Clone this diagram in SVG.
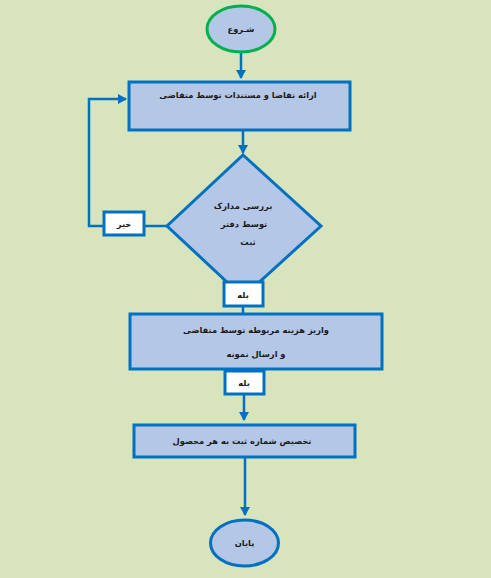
<svg xmlns="http://www.w3.org/2000/svg" width="491" height="578" viewBox="0 0 491 578">
<style>
.bg{fill:#d8e4bc}
.proc{fill:#b4c7e7;stroke:#0070c0;stroke-width:3}
.lbl{fill:#ffffff;stroke:#0070c0;stroke-width:3}
.con{fill:none;stroke:#0070c0;stroke-width:2.5}
text{font-family:"DejaVu Sans","Noto Sans",sans-serif;font-size:8.3px;font-weight:bold;fill:#1a1a1a;text-anchor:middle;direction:rtl}
</style>
<defs>
<marker id="ah" markerWidth="10" markerHeight="10" refX="8" refY="5" orient="auto" markerUnits="userSpaceOnUse">
<path d="M0,0 L9,5 L0,10 Z" fill="#0070c0"/>
</marker>
</defs>
<rect class="bg" x="0" y="0" width="491" height="578"/>
<g id="connectors">
<line class="con" x1="241" y1="53" x2="241" y2="78" marker-end="url(#ah)"/>
<line class="con" x1="243" y1="130" x2="243" y2="153" marker-end="url(#ah)"/>
<polyline class="con" points="167,226 145,226"/>
<polyline class="con" points="103,226 89,226 89,99 126,99" marker-end="url(#ah)"/>
<line class="con" x1="243" y1="307" x2="243" y2="313"/>
<line class="con" x1="244" y1="394" x2="244" y2="420" marker-end="url(#ah)"/>
<line class="con" x1="245" y1="457" x2="245" y2="515" marker-end="url(#ah)"/>
</g>
<g id="start">
<ellipse cx="241" cy="29" rx="34" ry="23" fill="#b4c7e7" stroke="#00b050" stroke-width="3"/>
<text x="241" y="32">شـروع</text>
</g>
<g id="submit">
<rect class="proc" x="129" y="82" width="221" height="48"/>
<text x="238" y="98">ارائه تقاضا و مستندات توسط متقاضی</text>
</g>
<g id="review">
<polygon class="proc" points="243,155 321,226 243,297 167,226"/>
<text x="243" y="209">بررسی مدارک</text>
<text x="244" y="227">توسط دفتر</text>
<text x="248" y="245">ثبت</text>
</g>
<g id="no-label">
<rect class="lbl" x="104" y="212" width="40" height="23"/>
<text x="124" y="227">خیر</text>
</g>
<g id="yes-label-1">
<rect class="lbl" x="224" y="282" width="39" height="24"/>
<text x="243" y="298">بله</text>
</g>
<g id="payment">
<rect class="proc" x="130" y="314" width="252" height="55"/>
<text x="256" y="333">واریز هزینه مربوطه توسط متقاضی</text>
<text x="256" y="357">و ارسال نمونه</text>
</g>
<g id="yes-label-2">
<rect class="lbl" x="225" y="371" width="39" height="23"/>
<text x="244" y="386">بله</text>
</g>
<g id="assign">
<rect class="proc" x="134" y="425" width="221" height="32"/>
<text x="242" y="444">تخصیص شماره ثبت به هر محصول</text>
</g>
<g id="end">
<ellipse cx="244.5" cy="543" rx="34" ry="23" fill="#b4c7e7" stroke="#0070c0" stroke-width="3"/>
<text x="244.5" y="546">پایان</text>
</g>
</svg>
